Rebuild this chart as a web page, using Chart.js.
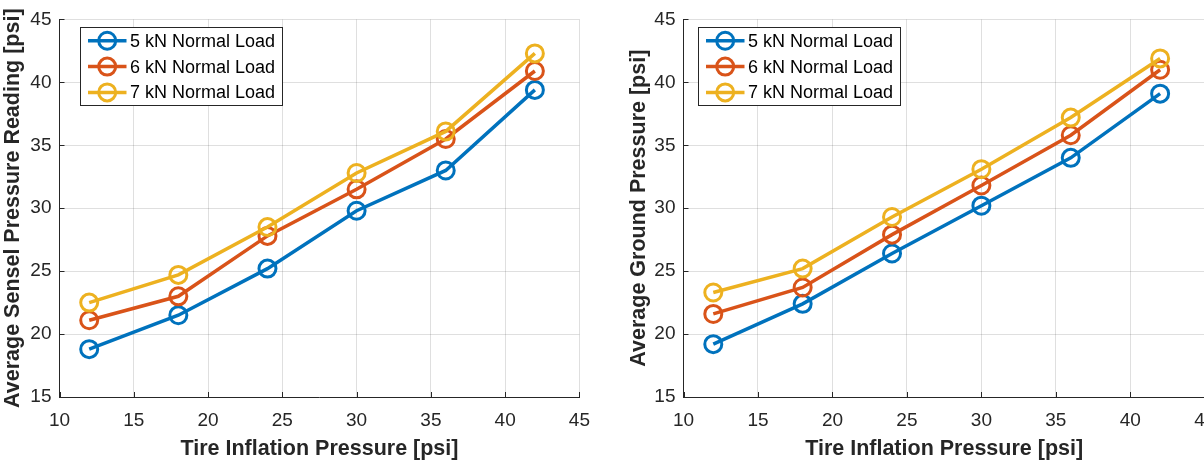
<!DOCTYPE html>
<html>
<head>
<meta charset="utf-8">
<script src="https://cdn.jsdelivr.net/npm/chart.js@4.4.1/dist/chart.umd.min.js"></script>
<style>
  html, body { margin: 0; padding: 0; background: #fff; overflow: hidden; }
  #wrap { position: relative; width: 1204px; height: 460px; overflow: hidden; }
  #left { position: absolute; left: 0; top: 0; }
  #right { position: absolute; left: 602px; top: 0; }
</style>
</head>
<body>
<div id="wrap">
  <canvas id="left" width="602" height="460"></canvas>
  <canvas id="right" width="640" height="460"></canvas>
</div>
<script>
// tire inflation pressure [psi]
const inflation = [12, 18, 24, 30, 36, 42];
const seriesNames = ['5 kN Normal Load', '6 kN Normal Load', '7 kN Normal Load'];
const seriesColors = ['#0072BD', '#D95319', '#EDB120'];

// left panel - average sensel pressure reading [psi]
const sensel5 = [18.8, 21.5, 25.2, 29.8, 33.0, 39.4];
const sensel6 = [21.1, 23.0, 27.8, 31.5, 35.5, 40.9];
const sensel7 = [22.5, 24.7, 28.5, 32.8, 36.1, 42.3];

// right panel - average ground pressure [psi]
const ground5 = [19.2, 22.4, 26.4, 30.2, 34.0, 39.1];
const ground6 = [21.6, 23.7, 27.9, 31.8, 35.8, 41.0];
const ground7 = [23.3, 25.2, 29.3, 33.1, 37.2, 41.9];

const xTicks = [10, 15, 20, 25, 30, 35, 40, 45];
const yTicks = [15, 20, 25, 30, 35, 40, 45];

const axisColor = '#262626';
const gridColor = 'rgba(38,38,38,0.15)';
const fontFamily = '"Liberation Sans", Arial, sans-serif';
const markerRadius = 8.5;

// legend box drawn inside the plot area, like matlab's 'northwest'
const insideLegend = {
  id: 'insideLegend',
  afterDraw(chart, args, opts) {
    const { ctx, chartArea } = chart;
    const x0 = Math.round(chartArea.left + opts.offsetX) + 0.5;
    const y0 = Math.round(chartArea.top + opts.offsetY) + 0.5;
    ctx.save();
    ctx.fillStyle = '#fff';
    ctx.fillRect(x0, y0, opts.width, opts.height);
    ctx.strokeStyle = axisColor;
    ctx.lineWidth = 1;
    ctx.strokeRect(x0, y0, opts.width, opts.height);
    chart.data.datasets.forEach((ds, i) => {
      const cy = y0 + 13.3 + i * 25.8;
      ctx.strokeStyle = ds.borderColor;
      ctx.lineWidth = 3.5;
      ctx.beginPath();
      ctx.moveTo(x0 + 7.5, cy);
      ctx.lineTo(x0 + 46, cy);
      ctx.stroke();
      ctx.lineWidth = 3;
      ctx.beginPath();
      ctx.arc(x0 + 26.7, cy, markerRadius, 0, Math.PI * 2);
      ctx.stroke();
      ctx.fillStyle = '#000';
      ctx.font = '18px ' + fontFamily;
      ctx.textBaseline = 'middle';
      ctx.textAlign = 'left';
      ctx.fillText(ds.label, x0 + 49.5, cy + 1);
    });
    ctx.restore();
  }
};

// matlab style inward tick marks
const inwardTicks = {
  id: 'inwardTicks',
  afterDatasetsDraw(chart) {
    const { ctx, chartArea, scales } = chart;
    ctx.save();
    ctx.strokeStyle = axisColor;
    ctx.lineWidth = 1;
    ctx.beginPath();
    scales.x.ticks.forEach(t => {
      const px = Math.round(scales.x.getPixelForValue(t.value)) + 0.5;
      ctx.moveTo(px, chartArea.bottom);
      ctx.lineTo(px, chartArea.bottom - 5);
    });
    scales.y.ticks.forEach(t => {
      const py = Math.round(scales.y.getPixelForValue(t.value)) + 0.5;
      ctx.moveTo(chartArea.left, py);
      ctx.lineTo(chartArea.left + 5, py);
    });
    ctx.stroke();
    ctx.restore();
  }
};

function makeChart(canvasId, yTitle, series, box) {
  const canvas = document.getElementById(canvasId);
  const datasets = series.map((vals, i) => ({
    label: seriesNames[i],
    data: inflation.map((x, k) => ({ x: x, y: vals[k] })),
    borderColor: seriesColors[i],
    backgroundColor: seriesColors[i],
    borderWidth: 3.5,
    pointRadius: markerRadius,
    pointHoverRadius: markerRadius,
    pointBorderWidth: 3,
    pointBackgroundColor: 'rgba(0,0,0,0)',
    pointBorderColor: seriesColors[i],
    order: series.length - 1 - i,
    clip: false
  }));

  return new Chart(canvas, {
    type: 'line',
    data: { datasets },
    plugins: [inwardTicks, insideLegend],
    options: {
      responsive: false,
      animation: false,
      devicePixelRatio: 1,
      layout: { padding: { top: box.top, right: canvas.width - box.right, left: 0, bottom: 0 } },
      plugins: {
        legend: { display: false },
        tooltip: { enabled: false },
        insideLegend: { offsetX: box.legendX, offsetY: 7.4, width: 202, height: 78 }
      },
      scales: {
        x: {
          type: 'linear',
          min: 10,
          max: 45,
          afterBuildTicks: s => { s.ticks = xTicks.map(v => ({ value: v })); },
          afterFit: s => { s.height = canvas.height - box.bottom; },
          grid: { color: gridColor, drawTicks: false },
          border: { display: true, color: axisColor, width: 1 },
          ticks: { color: axisColor, font: { family: fontFamily, size: 19 }, padding: 12, maxRotation: 0 },
          title: {
            display: true,
            text: 'Tire Inflation Pressure [psi]',
            color: axisColor,
            font: { family: fontFamily, size: 21.5, weight: 'bold', lineHeight: 1 },
            padding: { top: 0, bottom: 0 }
          }
        },
        y: {
          type: 'linear',
          min: 15,
          max: 45,
          afterBuildTicks: s => { s.ticks = yTicks.map(v => ({ value: v })); },
          afterFit: s => { s.width = box.left; },
          grid: { color: gridColor, drawTicks: false },
          border: { display: true, color: axisColor, width: 1 },
          ticks: { color: axisColor, font: { family: fontFamily, size: 19 }, padding: 8 },
          title: {
            display: true,
            text: yTitle,
            color: axisColor,
            font: { family: fontFamily, size: 21.5, weight: 'bold', lineHeight: 1 },
            padding: { top: box.titlePad, bottom: 0 }
          }
        }
      }
    }
  });
}

makeChart('left', 'Average Sensel Pressure Reading [psi]', [sensel5, sensel6, sensel7],
  { left: 59.5, right: 581.3, top: 15.3, bottom: 397, titlePad: 2.5, legendX: 20.5 });
makeChart('right', 'Average Ground Pressure [psi]', [ground5, ground6, ground7],
  { left: 81.5, right: 602.8, top: 15.3, bottom: 397, titlePad: 26, legendX: 14.8 });
</script>
</body>
</html>
